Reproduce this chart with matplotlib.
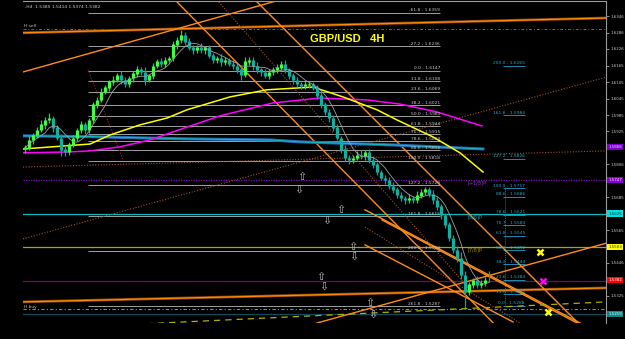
import numpy as np
import pandas as pd
import matplotlib
matplotlib.use("Agg")
import matplotlib.pyplot as plt
from matplotlib.transforms import blended_transform_factory

# ---------------- data ----------------
first_open = 1.5860
closes = [1.5865, 1.5894, 1.5912, 1.5930, 1.5949, 1.5967, 1.5974, 1.5938, 1.5901, 1.5858,
          1.5850, 1.5876, 1.5901, 1.5930, 1.5949, 1.5930, 1.5967, 1.6022, 1.6040, 1.6069,
          1.6084, 1.6106, 1.6113, 1.6128, 1.6113, 1.6098, 1.6120, 1.6135, 1.6150, 1.6142,
          1.6113, 1.6128, 1.6164, 1.6179, 1.6171, 1.6186, 1.6193, 1.6241, 1.6259, 1.6277,
          1.6252, 1.6230, 1.6222, 1.6230, 1.6222, 1.6230, 1.6201, 1.6186, 1.6193, 1.6179,
          1.6186, 1.6171, 1.6164, 1.6150, 1.6131, 1.6179, 1.6186, 1.6164, 1.6150, 1.6142,
          1.6128, 1.6142, 1.6150, 1.6157, 1.6171, 1.6150, 1.6128, 1.6113, 1.6098, 1.6091,
          1.6095, 1.6098, 1.6084, 1.6055, 1.6022, 1.5996, 1.5974, 1.5938, 1.5901, 1.5858,
          1.5828, 1.5821, 1.5828, 1.5839, 1.5836, 1.5850, 1.5821, 1.5803, 1.5777, 1.5755,
          1.5748, 1.5726, 1.5712, 1.5693, 1.5682, 1.5675, 1.5682, 1.5675, 1.5690, 1.5704,
          1.5712, 1.5697, 1.5675, 1.5650, 1.5620, 1.5584, 1.5536, 1.5492, 1.5463, 1.5401,
          1.5339, 1.5365, 1.5383, 1.5365, 1.5372, 1.5383, 1.5382]
upper_wick_pips = [10, 14, 8, 12, 16, 9, 20, 7, 11, 15,
                   18, 9, 12, 8, 14, 10, 6, 12, 9, 15,
                   11, 8, 13, 10, 16, 9, 7, 12, 14, 10,
                   18, 8, 11, 9, 13, 10, 8, 15, 12, 18,
                   10, 14, 9, 11, 16, 8, 12, 10, 9, 13,
                   11, 8, 14, 10, 12, 16, 9, 11, 13, 8,
                   10, 12, 9, 15, 11, 14, 8, 10, 12, 9,
                   13, 10, 8, 12, 14, 9, 11, 10, 13, 8,
                   16, 12, 10, 14, 18, 9, 11, 13, 10, 8,
                   12, 9, 14, 11, 10, 8, 13, 9, 16, 11,
                   10, 12, 15, 9, 11, 8, 10, 12, 14, 22,
                   13, 11, 9, 16, 10, 12, 31]
lower_wick_pips = [12, 9, 15, 10, 8, 14, 11, 16, 9, 22,
                   14, 10, 8, 12, 9, 15, 11, 10, 13, 8,
                   9, 12, 10, 8, 14, 11, 9, 13, 10, 12,
                   20, 9, 11, 8, 12, 10, 9, 11, 14, 10,
                   12, 9, 13, 10, 11, 14, 9, 12, 10, 16,
                   11, 9, 12, 10, 18, 9, 11, 13, 10, 16,
                   9, 12, 10, 11, 8, 12, 10, 14, 9, 11,
                   10, 12, 9, 13, 11, 10, 14, 12, 9, 11,
                   10, 13, 11, 9, 12, 14, 10, 12, 11, 9,
                   13, 10, 12, 11, 9, 14, 10, 12, 11, 9,
                   12, 10, 13, 11, 14, 12, 10, 11, 13, 16,
                   60, 12, 10, 11, 13, 10, 8]

slow_ma_bar = [0, 16.75, 21.75, 29.25, 36, 41, 51.75, 61, 72.5, 80, 88.5, 93.5, 102.5, 109.25, 115]
slow_ma_val = [1.5861, 1.5879, 1.5912, 1.5949, 1.5974, 1.6004, 1.6051, 1.6077, 1.6087, 1.6051,
               1.6004, 1.5967, 1.5905, 1.5847, 1.5777]
long_ma_bar = [0, 11, 16.75, 24.25, 31.75, 41, 49.25, 62.5, 74.25, 86, 94.25, 103.5, 114.75]
long_ma_val = [1.5847, 1.5850, 1.5854, 1.5869, 1.5894, 1.5941, 1.5982, 1.6029, 1.6047, 1.6040,
               1.6025, 1.5996, 1.5945]
blue_ma_bar = [0, 16.75, 40, 61.75, 69.25, 92, 115]
blue_ma_val = [1.5909, 1.5906, 1.5898, 1.5894, 1.5887, 1.5876, 1.5861]

fib_left_pct = [-61.8, -27.2, 0.0, 11.8, 23.6, 38.2, 50.0, 61.8, 70.7, 78.6, 88.6, 100.0,
                127.2, 161.8, 200.0, 261.8]
fib_left_price = [1.6359, 1.6236, 1.6147, 1.6108, 1.6069, 1.6021, 1.5981, 1.5944, 1.5915,
                  1.5889, 1.5856, 1.5818, 1.5729, 1.5615, 1.5490, 1.5287]
fib_right_pct = [200.0, 161.8, 127.2, 100.0, 88.6, 78.6, 70.7, 61.8, 50.0, 38.2, 23.6, 11.8, 0.0]
fib_right_price = [1.6165, 1.5984, 1.5826, 1.5717, 1.5686, 1.5621, 1.5583, 1.5545, 1.5492,
                   1.5440, 1.5384, 1.5331, 1.5288]

murrey_labels = ["[+1/8]P", "[8/8]P", "[7/8]P", "[6/8]P", "[5/8]P"]
murrey_prices = [1.5747, 1.5625, 1.5503, 1.5381, 1.5259]
murrey_colors = ["#7a10b0", "#10b8c0", "#a8a800", "#800070", "#0e4c5c"]
murrey_text_colors = ["#9030d0", "#20a8b8", "#a09020"]

# orange trend lines: (bar0, price0, bar1, price1)
orange_trendlines = [(0, 1.6142, 64.25, 1.6405),
                     (38, 1.6405, 119.25, 1.5201),
                     (58, 1.6405, 139.25, 1.5219),
                     (85.5, 1.5639, 139.25, 1.5226),
                     (85.5, 1.5511, 122.5, 1.5230),
                     (89.75, 1.5602, 138.5, 1.5226),
                     (73.5, 1.5226, 146, 1.5518)]
slow_orange_lines = [(0, 1.6285, 145.75, 1.6339),
                     (0, 1.5303, 145.75, 1.5354)]
dotted_trendlines = [(0, 1.5533, 146, 1.6124),
                     (0, 1.5795, 145.75, 1.5854),
                     (48.5, 1.6405, 111.75, 1.5347),
                     (85.5, 1.5576, 124.25, 1.5226)]
steep_dotted = (16.25, 1.6150, 25, 1.5821)
yellow_dashed = (0, 1.5202, 145.75, 1.5303)

top_dashdot_price = 1.6299
low_dashdot_price = 1.5277

fractal_up = [(69.75, 1.5759), (79.5, 1.5639), (82.5, 1.5503), (74.5, 1.5394), (86.75, 1.5299)]
fractal_down = [(69, 1.5711), (76, 1.5598), (82.75, 1.5467), (75.25, 1.5357), (87.5, 1.5255)]

x_marks_bar = [129.25, 130, 131.25]
x_marks_price = [1.5485, 1.5379, 1.5266]
x_marks_color = ["#ffff00", "#ff00ff", "#ffff00"]

axis_ticks = [1.6346, 1.6286, 1.6226, 1.6165, 1.6105, 1.6045, 1.5985, 1.5925, 1.5806,
              1.5685, 1.5565, 1.5446, 1.5325]
box_prices = [1.5868, 1.5747, 1.5625, 1.5503, 1.5382, 1.5259]
box_colors = ["#7a00c8", "#8a00d0", "#00e0e0", "#ffff00", "#ff0000", "#108888"]
box_text_colors = ["#e0d0ff", "#f0e0ff", "#003030", "#303000", "#ffffff", "#d0ffff"]

# ---------------- figure ----------------
fig = plt.figure(figsize=(6.25, 3.39), dpi=100, facecolor="black")
ax = fig.add_axes([23 / 625, 16 / 339, 583 / 625, 322 / 339])
ax.set_facecolor("black")
ax.set_xlim(0, 145.75)
ax.set_ylim(1.5226, 1.6401)

# horizontal full-width lines
ax.axhline(top_dashdot_price, color="#3a7a8a", lw=0.7, ls=(0, (3, 2, 1, 2)), zorder=1)
ax.axhline(low_dashdot_price, color="#b070a0", lw=0.8, ls=(0, (3, 2, 1, 2)), zorder=1)
for i, (p, c) in enumerate(zip(murrey_prices, murrey_colors)):
    ls = (0, (1, 1)) if i == 0 else "-"
    ax.axhline(p, color=c, lw=0.9, ls=ls, zorder=1)

# left fibonacci set
ax.hlines(fib_left_price, 16.25, 104.25, color="#a0a0a0", lw=0.7, zorder=1)
for pct, pr in zip(fib_left_pct, fib_left_price):
    ax.text(104.25, pr + 0.0002, f"{pct:.1f} - {pr:.4f}", ha="right", va="bottom",
            fontsize=3.2, color="#c8c8c8", zorder=6)

# right fibonacci set
ax.vlines(120.5, fib_right_price[-1], fib_right_price[3], color="#9030c0", lw=0.7,
          ls=(0, (1, 1)), zorder=1)
ax.hlines(fib_right_price, 120, 125.5, color="#28a0c8", lw=0.6, zorder=2)
for pct, pr in zip(fib_right_pct, fib_right_price):
    ax.text(125.5, pr + 0.0002, f"{pct:.1f} - {pr:.4f}", ha="right", va="bottom",
            fontsize=3.2, color="#28a8c8", zorder=6)

# trend lines
for b0, p0, b1, p1 in slow_orange_lines:
    ax.plot([b0, b1], [p0, p1], color="#8b4513", lw=2.0, zorder=2)
    ax.plot([b0, b1], [p0, p1], color="#ff8c00", lw=0.9, zorder=2)
for b0, p0, b1, p1 in orange_trendlines:
    ax.plot([b0, b1], [p0, p1], color="#ff8c1a", lw=1.0, zorder=2)
for b0, p0, b1, p1 in dotted_trendlines:
    ax.plot([b0, b1], [p0, p1], color="#a0522d", lw=0.8, ls=(0, (1, 1.5)), zorder=2)
ax.plot([steep_dotted[0], steep_dotted[2]], [steep_dotted[1], steep_dotted[3]],
        color="#a02020", lw=0.8, ls=(0, (1, 1.5)), zorder=2)
ax.plot([yellow_dashed[0], yellow_dashed[2]], [yellow_dashed[1], yellow_dashed[3]],
        color="#b0b000", lw=0.9, ls=(0, (5, 4)), zorder=2)

# moving averages
ax.plot(blue_ma_bar, blue_ma_val, color="#1f6fb0", lw=2.2, zorder=3)
ax.plot(blue_ma_bar, blue_ma_val, color="#20c0d0", lw=0.6, zorder=3)
ax.plot(long_ma_bar, long_ma_val, color="#ff00ff", lw=1.1, zorder=3)
ax.plot(slow_ma_bar, slow_ma_val, color="#ffff00", lw=1.1, zorder=3)

# candles
n = len(closes)
xs = np.arange(n) + 0.5
cl = np.array(closes)
op = np.array([first_open] + closes[:-1])
hi = np.maximum(op, cl) + np.array(upper_wick_pips) * 0.0001
lo = np.minimum(op, cl) - np.array(lower_wick_pips) * 0.0001
bull = cl >= op
wick_cols = np.where(bull, "#20d060", "#10a0a0")
body_cols = np.where(bull, "#40ff40", "#10b0a0")
ax.vlines(xs, lo, hi, colors=wick_cols, lw=0.9, zorder=4)
ax.vlines(xs, np.minimum(op, cl), np.maximum(op, cl) + 0.00015, colors=body_cols, lw=2.3, zorder=4)

fast_ma = pd.Series(closes).rolling(6, min_periods=1).mean()
ax.plot(xs, fast_ma, color="#a0a0a0", lw=0.6, zorder=5)

# murrey labels
for lab, p, col in zip(murrey_labels[:3], murrey_prices[:3], murrey_text_colors):
    ax.text(111.25, p - 0.0001, lab, ha="left", va="top", fontsize=3.6, color=col, zorder=6)

# fractal arrows
for b, p in fractal_up:
    ax.text(b, p, "\u21e7", ha="center", va="center", fontsize=8, color="#b8b8b8",
            fontfamily="DejaVu Sans", zorder=6)
for b, p in fractal_down:
    ax.text(b, p, "\u21e9", ha="center", va="center", fontsize=8, color="#b8b8b8",
            fontfamily="DejaVu Sans", zorder=6)

# X markers
for b, p, c in zip(x_marks_bar, x_marks_price, x_marks_color):
    ax.plot(b, p, marker="x", ms=5, mew=1.8, color=c, zorder=6)

# texts
ax.text(71.75, 1.6264, "GBP/USD   4H", fontfamily="Liberation Sans", fontweight="bold",
        fontsize=8, color="#ffff00", ha="left", va="center", zorder=7)
ax.text(0.003, 0.988, ",H4  1.5385 1.5414 1.5374 1.5382", transform=ax.transAxes,
        ha="left", va="top", fontsize=3.2, color="#d0d0d0", zorder=7)
ax.text(0.3, 1.6310, "H sell", ha="left", va="center", fontsize=3.2, color="#c0c0c0", zorder=7)
ax.text(0.3, 1.5284, "H buy", ha="left", va="center", fontsize=3.2, color="#c0c0c0", zorder=7)

# axes styling
ax.set_xticks([])
ax.yaxis.tick_right()
ax.set_yticks(axis_ticks)
ax.set_yticklabels([f"{t:.4f}" for t in axis_ticks])
ax.tick_params(axis="y", colors="#c8c8c8", labelsize=2.9, length=2, width=0.5, pad=1)
for s in ["left", "bottom"]:
    ax.spines[s].set_visible(False)
for s in ["top", "right"]:
    ax.spines[s].set_color("#9a9a9a")
    ax.spines[s].set_linewidth(0.8)

trans = blended_transform_factory(ax.transAxes, ax.transData)
for p, c, tc in zip(box_prices, box_colors, box_text_colors):
    ax.text(1.004, p, f"{p:.4f}", transform=trans, ha="left", va="center", fontsize=2.9,
            color=tc, bbox=dict(boxstyle="square,pad=0.3", fc=c, ec="none"),
            clip_on=False, zorder=10)

fig.savefig("out.png", dpi=100, facecolor="black")
